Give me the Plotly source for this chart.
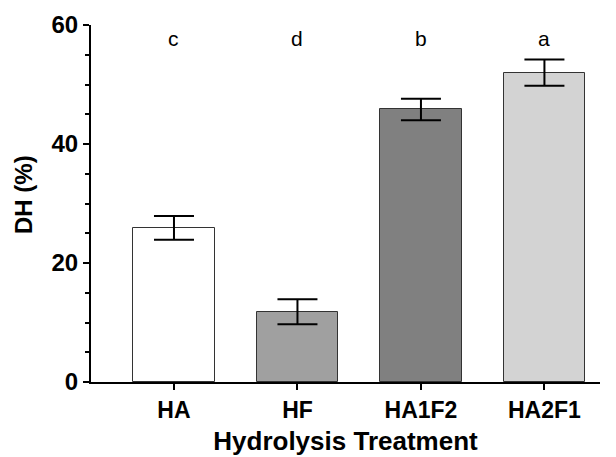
import plotly.graph_objects as go

categories = ["HA", "HF", "HA1F2", "HA2F1"]
dh_values = [25.9, 11.8, 45.8, 52.0]
dh_errors = [2.0, 2.1, 1.8, 2.2]
sig_letters = ["c", "d", "b", "a"]
bar_colors = ["#ffffff", "#a0a0a0", "#808080", "#d3d3d3"]
y_ticks = [0, 20, 40, 60]

FONT = "Liberation Sans, Arial, sans-serif"

fig = go.Figure()
fig.add_trace(go.Bar(
    x=list(range(len(categories))),
    y=dh_values,
    width=0.66,
    marker=dict(color=bar_colors, line=dict(color="#333333", width=1)),
    error_y=dict(type="data", array=dh_errors, visible=True,
                 color="black", thickness=2, width=20),
    showlegend=False,
))

for i, letter in enumerate(sig_letters):
    fig.add_annotation(x=i, y=57.8, text=letter, showarrow=False,
                       xref="x", yref="y", yanchor="middle",
                       font=dict(family=FONT, size=21, color="black"))

# y-axis title placed as rotated text
fig.add_annotation(x=-0.1336, y=0.5266, xref="paper", yref="paper",
                   text="<b>DH (%)</b>", textangle=-90, showarrow=False,
                   xanchor="center", yanchor="middle",
                   font=dict(family=FONT, size=24, color="black"))

fig.update_layout(
    width=608, height=449,
    margin=dict(l=83, r=16, t=17, b=75),
    plot_bgcolor="white", paper_bgcolor="white",
    font=dict(family=FONT, color="black"),
    bargap=0,
)
fig.update_xaxes(
    automargin=False,
    range=[-0.672, 3.45],
    tickmode="array",
    tickvals=list(range(len(categories))),
    ticktext=categories,
    ticks="outside", ticklen=6, tickwidth=2, tickcolor="black",
    showline=True, linecolor="black", linewidth=2,
    showgrid=False, zeroline=False,
    tickfont=dict(family=FONT, size=23, weight="bold", color="black"),
    title=dict(text="Hydrolysis Treatment", standoff=10,
               font=dict(family=FONT, size=26, weight="bold", color="black")),
)
fig.update_yaxes(
    automargin=False,
    range=[0, 60],
    tickmode="array", tickvals=y_ticks,
    ticks="outside", ticklen=6, tickwidth=2, tickcolor="black",
    minor=dict(dtick=5, ticks="outside", ticklen=4, tickwidth=1.5, tickcolor="black"),
    showline=True, linecolor="black", linewidth=2,
    showgrid=False, zeroline=False,
    tickfont=dict(family=FONT, size=24, weight="bold", color="black"),
)

fig.write_html("out.html")
